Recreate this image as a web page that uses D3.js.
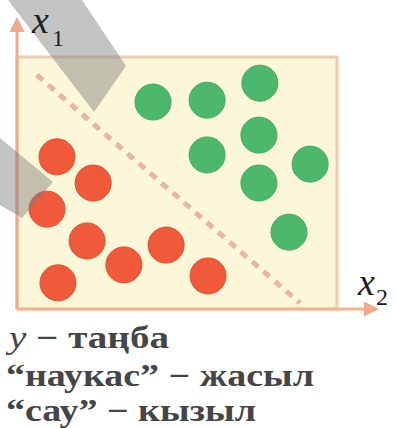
<!DOCTYPE html>
<html><head><meta charset="utf-8">
<script src="https://cdn.jsdelivr.net/npm/d3@7"></script>
<style>body{margin:0;background:#fff}svg{display:block}
.sf{font-family:"Liberation Serif","DejaVu Serif",serif}</style>
</head><body>
<svg id="c" width="397" height="428"></svg>
<script>
// ---- data ----
const redX2 = [1.25, 2.38, 0.94, 2.19, 3.34, 4.66, 1.28, 5.97];
const redX1 = [4.83, 4.00, 3.17, 2.16, 1.40, 2.03, 0.83, 1.05];
const greenX2 = [4.25, 5.94, 7.59, 7.56, 5.94, 9.16, 7.56, 8.50];
const greenX1 = [6.57, 6.63, 7.17, 5.52, 4.89, 4.60, 4.00, 2.44];
const boundaryX2 = [0.62, 8.84];
const boundaryX1 = [7.43, 0.19];
const axisLabels = ["x", "x"];
const axisSubs = ["1", "2"];
const legendLines = [
  {it: "y", rest: " − таңба", w: 160},
  {it: "", rest: "“наукас” − жасыл", w: 308},
  {it: "", rest: "“сау” − кызыл", w: 250}
];

const svg = d3.select("#c");
const x = d3.scaleLinear().domain([0, 10]).range([17, 337]);
const y = d3.scaleLinear().domain([0, 8]).range([309, 57]);

// plot background
svg.append("rect").attr("x", x(0)).attr("y", y(8))
  .attr("width", x(10) - x(0)).attr("height", y(0) - y(8))
  .attr("fill", "#fdf7da").attr("stroke", "#f2cbb0").attr("stroke-width", 3);

// decision boundary
svg.append("line")
  .attr("x1", x(boundaryX2[0])).attr("y1", y(boundaryX1[0]))
  .attr("x2", x(boundaryX2[1])).attr("y2", y(boundaryX1[1]))
  .attr("stroke", "#eab4a0").attr("stroke-width", 5)
  .attr("stroke-dasharray", "8,7");

// points
const pts = redX2.map((v, i) => ({a: v, b: redX1[i], c: "#f05a3a", s: "#d9502f"}))
  .concat(greenX2.map((v, i) => ({a: v, b: greenX1[i], c: "#4cb86c", s: "#45a862"})));
svg.selectAll("circle.p").data(pts).enter().append("circle")
  .attr("class", "p")
  .attr("cx", d => x(d.a)).attr("cy", d => y(d.b)).attr("r", 18)
  .attr("fill", d => d.c).attr("stroke", d => d.s).attr("stroke-width", 1);

// axes with arrows
const defs = svg.append("defs");
defs.append("marker").attr("id", "arr").attr("viewBox", "0 0 10 10")
  .attr("refX", 8).attr("refY", 5).attr("markerWidth", 5).attr("markerHeight", 5)
  .attr("orient", "auto")
  .append("path").attr("d", "M0,0 L10,5 L0,10 z").attr("fill", "#f3a88c");
svg.append("line").attr("x1", x(0)).attr("y1", y(0)).attr("x2", x(0)).attr("y2", 20)
  .attr("stroke", "#f3a88c").attr("stroke-width", 3).attr("marker-end", "url(#arr)");
svg.append("line").attr("x1", x(0)).attr("y1", y(0)).attr("x2", 376).attr("y2", y(0))
  .attr("stroke", "#f5b48e").attr("stroke-width", 3).attr("marker-end", "url(#arr)");

// shadow bands (page fold)
svg.append("polygon").attr("points", "8,0 82,0 126,66 94,112")
  .attr("fill", "#7a7a7a").attr("opacity", 0.45);
svg.append("polygon").attr("points", "0,138 53,182 22,218 0,205")
  .attr("fill", "#7a7a7a").attr("opacity", 0.45);

// axis labels
const lab1 = svg.append("text").attr("class", "sf").attr("x", 32).attr("y", 33)
  .style("font-size", "38px").attr("fill", "#1e1e1e");
lab1.append("tspan").style("font-style", "italic").text(axisLabels[0]);
lab1.append("tspan").style("font-size", "24px").attr("dy", 13).attr("dx", 3).text(axisSubs[0]);
const lab2 = svg.append("text").attr("class", "sf").attr("x", 358).attr("y", 295)
  .style("font-size", "38px").attr("fill", "#1e1e1e");
lab2.append("tspan").style("font-style", "italic").text(axisLabels[1]);
lab2.append("tspan").style("font-size", "24px").attr("dy", 10).attr("dx", 1).text(axisSubs[1]);

// legend text
const baselines = [348, 386, 421];
legendLines.forEach((l, i) => {
  const t = svg.append("text").attr("class", "sf").attr("x", i === 0 ? 9 : 6).attr("y", baselines[i])
    .style("font-size", "31px").style("font-weight", "bold")
    .attr("fill", "#454545")
    .attr("textLength", l.w).attr("lengthAdjust", "spacingAndGlyphs");
  if (l.it) t.append("tspan").style("font-style", "italic").style("font-weight", "normal").text(l.it);
  t.append("tspan").text(l.rest);
});
</script>
</body></html>
